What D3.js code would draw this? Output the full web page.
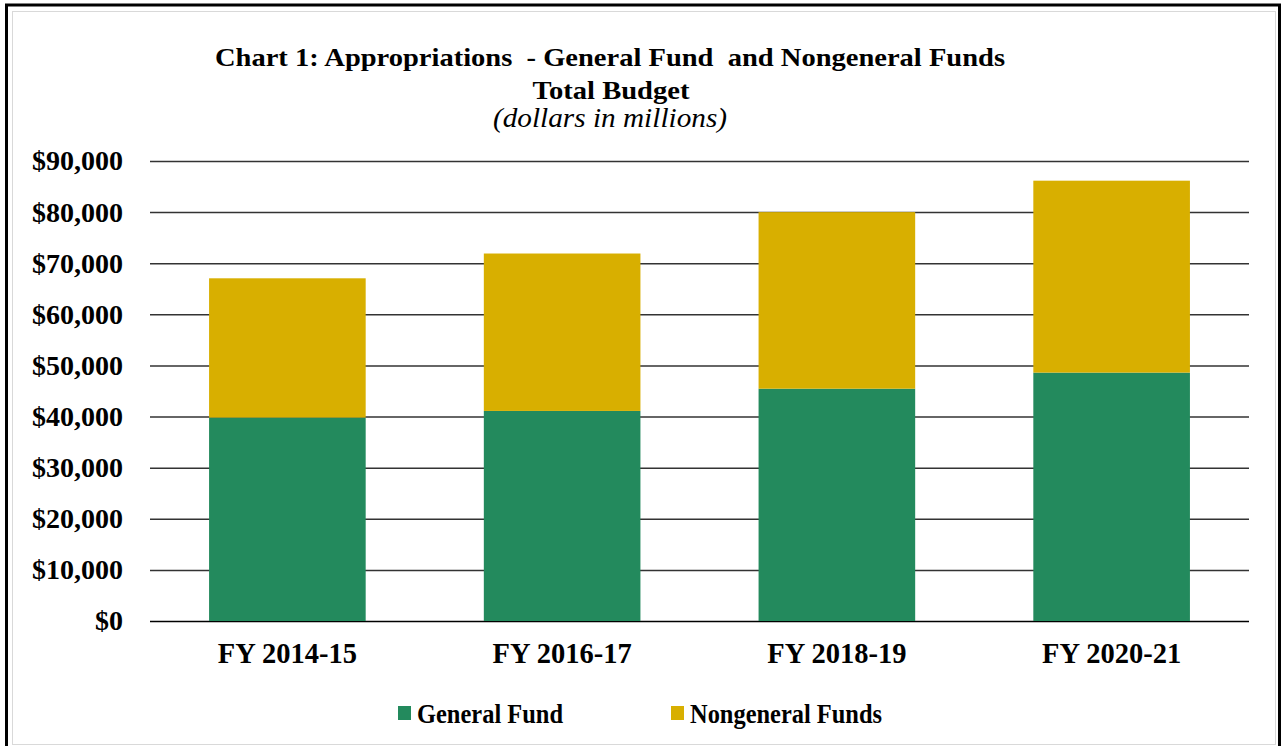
<!DOCTYPE html>
<html>
<head>
<meta charset="utf-8">
<script src="https://cdn.jsdelivr.net/npm/d3@7"></script>
<style>
  body { margin: 0; background: #fff; }
  svg text { font-family: "Liberation Serif", "Times New Roman", serif; font-weight: bold; fill: #000; }
</style>
</head>
<body>
<svg class="visuals" width="1281" height="746"></svg>
<script>
// values (dollars in millions)
var categories = ['FY 2014-15', 'FY 2016-17', 'FY 2018-19', 'FY 2020-21'];
var generalFund = [39800, 41100, 45450, 48600];
var nongeneralFunds = [27250, 30800, 34550, 37550];
var seriesNames = ['General Fund', 'Nongeneral Funds'];
var seriesColors = ['#238A5D', '#D8AF00'];
var yTicks = [0, 10000, 20000, 30000, 40000, 50000, 60000, 70000, 80000, 90000];

var svg = d3.select('.visuals');
var W = 1281, H = 746;
var margin = {top: 161, right: 32, bottom: 125, left: 150};

// frame
svg.append('rect')
  .attr('x', 6.5).attr('y', 5).attr('width', 1273).attr('height', 745)
  .style('fill', 'none').style('stroke', '#000').style('stroke-width', '3px');
svg.append('rect')
  .attr('x', 12.5).attr('y', 11.5).attr('width', 1263).attr('height', 733)
  .style('fill', 'none').style('stroke', '#d9d9d9').style('stroke-width', '1px');

var x = d3.scaleBand()
  .domain(categories)
  .range([margin.left, W - margin.right])
  .paddingInner(0.43)
  .paddingOuter(0.215);

var y = d3.scaleLinear()
  .domain([0, 90000])
  .range([H - margin.bottom, margin.top]);

// gridlines + y labels
var yAxis = d3.axisLeft(y)
  .tickValues(yTicks)
  .tickSize(-(W - margin.right - margin.left))
  .tickPadding(27)
  .tickFormat(function(d){ return '$' + d3.format(',')(d); });

var gy = svg.append('g')
  .attr('transform', 'translate(' + margin.left + ',0)')
  .call(yAxis);
gy.select('.domain').remove();
gy.selectAll('.tick line')
  .style('stroke', function(d){ return d === 0 ? '#000' : '#333'; })
  .style('stroke-width', '1.5px');
gy.selectAll('.tick text')
  .style('font-size', '28px')
  .style('font-family', '"Liberation Serif", serif')
  .attr('dy', '0.32em');

// stacked bars
var rows = categories.map(function(c, i){
  return {cat: c, g: generalFund[i], n: nongeneralFunds[i]};
});
var stack = d3.stack().keys(['g', 'n'])(rows);

svg.append('g').selectAll('g')
  .data(stack)
  .enter().append('g')
  .style('fill', function(d, i){ return seriesColors[i]; })
  .selectAll('rect')
  .data(function(d){ return d; })
  .enter().append('rect')
  .attr('x', function(d){ return x(d.data.cat); })
  .attr('width', x.bandwidth())
  .attr('y', function(d){ return y(d[1]); })
  .attr('height', function(d){ return y(d[0]) - y(d[1]); });

// x labels
var xAxis = d3.axisBottom(x).tickSize(0).tickPadding(0);
var gx = svg.append('g')
  .attr('transform', 'translate(0,' + (H - margin.bottom) + ')')
  .call(xAxis);
gx.select('.domain').remove();
gx.selectAll('.tick text')
  .attr('dy', null)
  .attr('y', 42)
  .style('font-size', '28.5px')
  .style('font-family', '"Liberation Serif", serif');

// title
var cx = 610;
svg.append('text')
  .attr('x', cx).attr('y', 66)
  .attr('text-anchor', 'middle')
  .attr('textLength', 790)
  .attr('lengthAdjust', 'spacingAndGlyphs')
  .style('white-space', 'pre')
  .style('font-size', '26px')
  .text('Chart 1: Appropriations  - General Fund  and Nongeneral Funds');
svg.append('text')
  .attr('x', cx + 1).attr('y', 99)
  .attr('text-anchor', 'middle')
  .attr('textLength', 157)
  .attr('lengthAdjust', 'spacingAndGlyphs')
  .style('font-size', '26px')
  .text('Total Budget');
svg.append('text')
  .attr('x', cx).attr('y', 127)
  .attr('text-anchor', 'middle')
  .attr('textLength', 234)
  .attr('lengthAdjust', 'spacingAndGlyphs')
  .style('font-family', '"Liberation Serif", serif')
  .style('font-weight', 'normal')
  .style('font-style', 'italic')
  .style('font-size', '27px')
  .text('(dollars in millions)');

// legend
var legendX = [398, 671];
var legendW = [146, 192];
var lg = svg.append('g').selectAll('g')
  .data(seriesNames)
  .enter().append('g')
  .attr('transform', function(d, i){ return 'translate(' + legendX[i] + ',706)'; });
lg.append('rect')
  .attr('width', 13).attr('height', 14)
  .style('fill', function(d, i){ return seriesColors[i]; });
lg.append('text')
  .attr('x', 19).attr('y', 17)
  .attr('textLength', function(d, i){ return legendW[i]; })
  .attr('lengthAdjust', 'spacingAndGlyphs')
  .style('font-size', '27px')
  .text(function(d){ return d; });
</script>
</body>
</html>
